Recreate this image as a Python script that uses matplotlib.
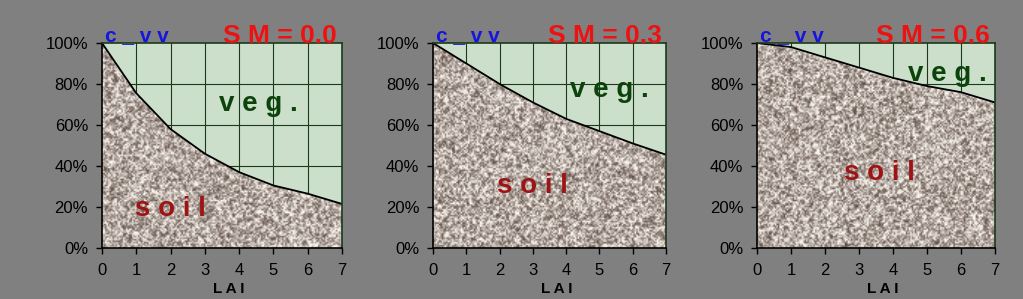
import numpy as np
import matplotlib
matplotlib.use("Agg")
import matplotlib.pyplot as plt
from matplotlib.ticker import PercentFormatter

plt.rcParams['font.family'] = ['Liberation Sans', 'DejaVu Sans']

# LAI axis and soil share (%) of c_vv for each soil moisture
lai = [0, 1, 2, 3, 4, 5, 6, 7]
soil_sm00 = [100, 75.5, 58, 46, 37, 30.5, 26.5, 21.5]
soil_sm03 = [100, 90, 80, 71, 63, 57, 51, 45.5]
soil_sm06 = [100, 98, 93, 88, 83, 79, 76, 71]
sm_labels = ["S M = 0.0", "S M = 0.3", "S M = 0.6"]

# label positions (LAI, %) for "veg." and "soil"
veg_pos = [(4.55, 70), (5.3, 77), (5.6, 85)]
soil_pos = [(2.0, 19), (3.0, 30), (3.6, 36.5)]

BG = "#808080"
GREEN = "#cbdfcb"


def granite(h, w, seed):
    # deterministic speckle texture for the soil
    yy, xx = np.mgrid[0:h, 0:w].astype(float)
    a = np.sin(xx * 12.9898 + yy * 78.233 + seed * 3.7) * 43758.5453
    b = np.sin(xx * 39.3467 + yy * 11.135 + seed * 1.3) * 24634.6345
    n = (a - np.floor(a) + b - np.floor(b)) % 1.0
    m = np.zeros_like(n)
    for dy in (-1, 0, 1):
        for dx in (-1, 0, 1):
            m += np.roll(np.roll(n, dy, 0), dx, 1)
    m = 0.6 * n + 0.4 * (m / 9.0)
    m = (m - m.mean()) / m.std()
    m = np.clip(0.56 + 0.27 * m, 0, 1)
    dark = np.array([95, 78, 70]) / 255.0
    light = np.array([250, 245, 238]) / 255.0
    return dark + (light - dark) * m[..., None]


fig = plt.figure(figsize=(10.23, 2.99), dpi=100, facecolor=BG)
lefts = [0.0997, 0.4233, 0.740]
widths = [0.2346, 0.2278, 0.2326]
series = [soil_sm00, soil_sm03, soil_sm06]

for i, soil in enumerate(series):
    ax = fig.add_axes([lefts[i], 0.1706, widths[i], 0.6856])
    ax.set_facecolor(GREEN)
    ax.set_xlim(0, 7)
    ax.set_ylim(0, 100)

    # grid
    for x in lai[1:-1]:
        ax.axvline(x, color="#1a3a1a", lw=0.8, zorder=1)
    for y in [20, 40, 60, 80]:
        ax.axhline(y, color="#1a3a1a", lw=0.8, zorder=1)

    poly = ax.fill_between(lai, 0, soil, color="none", zorder=2)
    img = ax.imshow(granite(136, 160, i), extent=[0, 7, 0, 100],
                    aspect="auto", interpolation="bilinear", zorder=2)
    img.set_clip_path(poly.get_paths()[0], transform=ax.transData)
    ax.plot(lai, soil, color="black", lw=1.3, zorder=3)

    ax.yaxis.set_major_formatter(PercentFormatter(decimals=0))
    ax.set_yticks([0, 20, 40, 60, 80, 100])
    ax.set_xticks(lai)
    ax.tick_params(direction="out", length=4, width=1, labelsize=12,
                   colors="black", pad=6)
    ax.tick_params(axis="x", pad=7)
    for sp in ax.spines.values():
        sp.set_linewidth(1.2)
        sp.set_zorder(4)
    ax.spines["top"].set_color("#1a3a1a")
    ax.spines["right"].set_color("#1a3a1a")

    ax.text(0.012, 1.01, "c _ v v", transform=ax.transAxes, color="#1515dd",
            fontsize=15, fontweight="bold", ha="left", va="baseline", zorder=6)
    ax.text(0.98, 1.0, sm_labels[i], transform=ax.transAxes, color="#ee1111",
            fontsize=19, fontweight="bold", ha="right", va="baseline", zorder=6)
    ax.text(veg_pos[i][0], veg_pos[i][1], "v e g .", color="#0b430b",
            fontsize=20, fontweight="bold", ha="center", va="center", zorder=5)
    ax.text(soil_pos[i][0], soil_pos[i][1], "s o i l", color="#9e1414",
            fontsize=20, fontweight="bold", ha="center", va="center", zorder=5)
    ax.text(0.53, -0.20, "L A I", transform=ax.transAxes, color="black",
            fontsize=11, fontweight="bold", ha="center", va="center")

fig.savefig("out.png", dpi=100, facecolor=BG)
